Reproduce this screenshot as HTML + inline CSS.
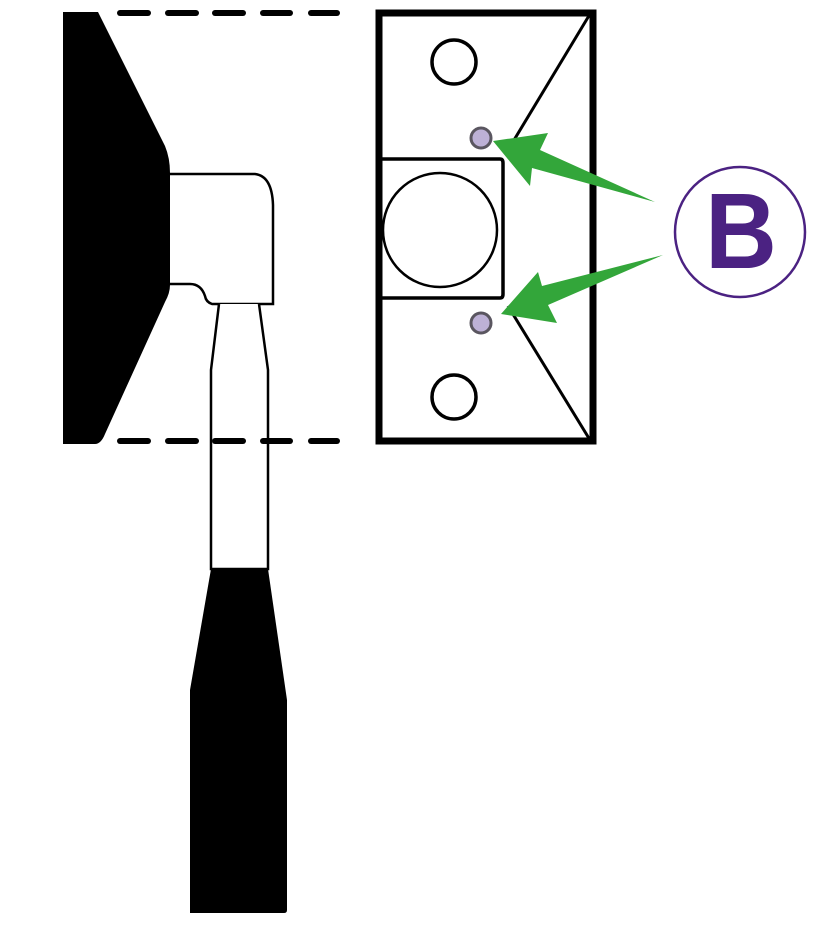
<!DOCTYPE html>
<html><head><style>html,body{margin:0;padding:0;background:#fff}svg{display:block}</style></head>
<body>
<svg width="835" height="929" viewBox="0 0 835 929" xmlns="http://www.w3.org/2000/svg">
<path d="M63,12 L98,12 L165,146 Q170,158 170,173 L170,285 Q170,293 165,302 L105,434 Q101,444 95,444 L63,444 Z" fill="#000"/>
<path d="M170,174 L255,174 Q272,176 273,205 L273,304 L212,304 Q206,302 205,296 Q201,284 190,284 L170,284" fill="#fff" stroke="#000" stroke-width="2.5"/>
<path d="M219,304 L211,370 L211,569 L268,569 L268,370 L259,304" fill="#fff" stroke="#000" stroke-width="2.5"/>
<path d="M211,569 L268,569 L287,700 L287,910 Q287,913 284,913 L190,913 L190,690 Z" fill="#000"/>
<g stroke="#000" stroke-width="6" stroke-linecap="round">
<line x1="120" y1="13" x2="148" y2="13"/><line x1="168" y1="13" x2="196" y2="13"/><line x1="215" y1="13" x2="243" y2="13"/><line x1="263" y1="13" x2="290" y2="13"/><line x1="311" y1="13" x2="337" y2="13"/>
<line x1="120" y1="441" x2="148" y2="441"/><line x1="168" y1="441" x2="196" y2="441"/><line x1="215" y1="441" x2="243" y2="441"/><line x1="263" y1="441" x2="290" y2="441"/><line x1="311" y1="441" x2="337" y2="441"/>
</g>
<rect x="379" y="13" width="214" height="428" fill="#fff" stroke="#000" stroke-width="7"/>
<g fill="none" stroke="#000" stroke-width="3.5">
<circle cx="454" cy="62" r="22"/><circle cx="454" cy="397" r="22"/>
<circle cx="440" cy="230" r="57" stroke-width="2.5"/>
<path d="M379,159 L500,159 Q503,159 503,163 L503,294 Q503,298 500,298 L379,298"/>
<line x1="590" y1="14" x2="508" y2="150" stroke-width="3"/><line x1="508" y1="306" x2="590" y2="440" stroke-width="3"/>
</g>
<circle cx="481" cy="138" r="10" fill="#bdb1d6" stroke="#5a5660" stroke-width="3"/>
<circle cx="481" cy="323" r="10" fill="#bdb1d6" stroke="#5a5660" stroke-width="3"/>
<path d="M493,141 L548,133 L540,150 L655,202 L532,168 L530,186 Z" fill="#33a63a"/>
<path d="M501,314 L538,272 L542,286 L663,255 L548,305 L557,323 Z" fill="#33a63a"/>
<circle cx="740" cy="232" r="65" fill="#fff" stroke="#4b2282" stroke-width="2.5"/>
<text x="741" y="268" text-anchor="middle" font-family="Liberation Sans, sans-serif" font-size="108" font-weight="bold" fill="#4b2282" transform="translate(741,0) scale(0.92,1) translate(-741,0)">B</text>
</svg>
</body></html>
